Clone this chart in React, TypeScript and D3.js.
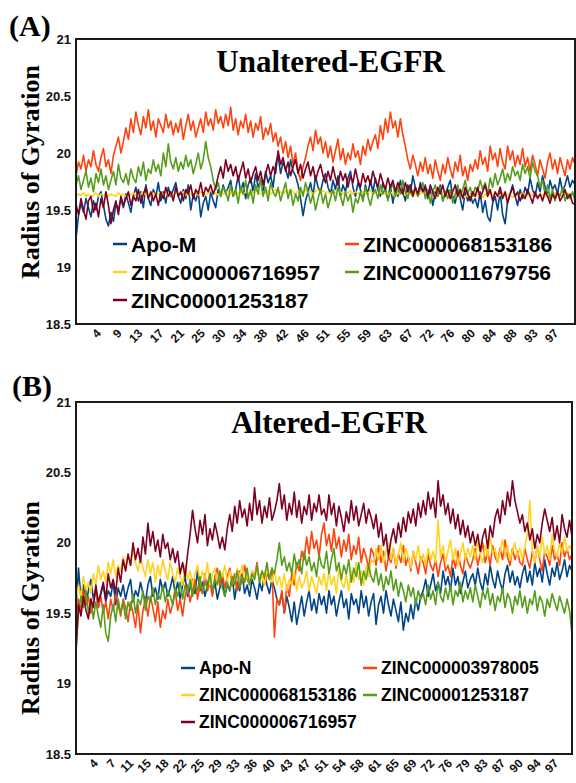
import React from 'react';
import * as d3 from 'd3';

// ---------- DATA ----------
const ticksA = ['4','9','13','17','21','25','30','34','38','42','46','51','55','59','63','67','72','76','80','84','88','93','97'];
const ticksB = ['4','7','11','15','18','22','25','29','33','36','40','43','47','51','54','58','61','65','69','72','76','79','83','87','90','94','97'];
const yTicks = [18.5, 19, 19.5, 20, 20.5, 21];

const namesA = ['Apo-M', 'ZINC000068153186', 'ZINC000006716957', 'ZINC000011679756', 'ZINC00001253187'];
const namesB = ['Apo-N', 'ZINC000003978005', 'ZINC000068153186', 'ZINC00001253187', 'ZINC000006716957'];

// Panel A series (time 0–100 ns, evenly sampled)
const aApoM = [
19.25,19.45,19.56,19.48,19.60,19.52,19.44,19.58,19.50,19.62,19.66,19.54,19.42,19.36,19.48,19.40,19.56,19.50,19.60,19.52,
19.64,19.56,19.48,19.62,19.70,19.58,19.66,19.52,19.72,19.60,19.54,19.68,19.62,19.74,19.58,19.66,19.56,19.70,19.62,19.68,
19.74,19.62,19.56,19.68,19.60,19.72,19.50,19.64,19.58,19.66,19.44,19.56,19.62,19.50,19.66,19.58,19.52,19.68,19.62,19.72,
19.64,19.70,19.76,19.62,19.68,19.80,19.66,19.74,19.60,19.72,19.78,19.66,19.82,19.70,19.76,19.64,19.84,19.74,19.80,19.70,
19.90,19.98,19.82,19.92,19.86,19.78,19.94,19.84,19.80,19.72,19.60,19.45,19.58,19.66,19.74,19.62,19.80,19.70,19.66,19.76,
19.82,19.70,19.64,19.76,19.68,19.80,19.62,19.72,19.66,19.78,19.84,19.70,19.62,19.74,19.68,19.58,19.72,19.64,19.76,19.66,
19.78,19.68,19.62,19.74,19.66,19.60,19.72,19.56,19.68,19.62,19.76,19.66,19.58,19.72,19.64,19.80,19.70,19.62,19.74,19.66,
19.72,19.60,19.68,19.54,19.66,19.62,19.72,19.58,19.64,19.70,19.76,19.62,19.56,19.68,19.60,19.50,19.66,19.58,19.64,19.56,
19.60,19.52,19.66,19.48,19.58,19.44,19.40,19.56,19.62,19.50,19.66,19.46,19.38,19.58,19.64,19.72,19.62,19.54,19.68,19.60,
19.70,19.64,19.78,19.68,19.62,19.74,19.66,19.80,19.70,19.62,19.76,19.68,19.72,19.64,19.78,19.66,19.72,19.80,19.70,19.76,19.72];
const aZ68 = [
19.80,19.92,19.86,19.98,19.84,19.94,19.88,20.02,19.90,19.84,19.96,20.04,19.88,19.94,19.82,19.98,20.06,20.14,20.00,20.10,
20.22,20.12,20.30,20.18,20.36,20.24,20.16,20.32,20.22,20.38,20.20,20.28,20.14,20.30,20.24,20.18,20.34,20.22,20.28,20.16,
20.26,20.18,20.30,20.12,20.24,20.34,20.20,20.28,20.14,20.22,20.30,20.18,20.36,20.24,20.30,20.20,20.38,20.26,20.32,20.22,
20.34,20.24,20.40,20.20,20.30,20.16,20.28,20.22,20.34,20.18,20.28,20.14,20.26,20.20,20.32,20.12,20.22,20.16,20.26,20.10,
20.18,20.06,20.14,20.00,20.10,19.96,20.06,19.90,20.00,19.84,19.76,19.88,19.96,20.06,20.14,20.02,20.20,20.08,20.14,20.00,
20.10,19.96,20.06,19.92,20.02,20.12,19.94,20.04,19.90,20.00,19.94,20.08,19.96,20.02,19.90,20.06,19.98,20.12,20.02,20.10,
20.16,20.04,20.24,20.12,20.30,20.18,20.36,20.22,20.28,20.14,20.30,20.16,20.06,19.94,19.86,19.98,19.90,19.80,19.92,19.84,
19.96,19.82,19.90,19.78,19.94,19.84,19.76,19.90,19.82,19.96,19.86,19.78,19.92,19.84,19.98,19.80,19.88,19.76,19.90,19.84,
19.94,19.86,20.02,19.90,19.96,19.84,20.06,19.94,20.00,19.88,20.04,19.92,19.86,20.06,19.94,20.02,19.88,19.98,19.90,20.04,
19.88,19.96,19.84,19.98,19.90,19.80,19.94,19.86,19.78,19.92,20.00,19.86,19.94,19.82,19.96,19.88,19.80,19.94,19.86,19.96,19.90];
const aZ67 = [
19.62,19.64,19.63,19.65,19.62,19.64,19.61,19.63,19.65,19.62,19.64,19.63,19.65,19.62,19.64,19.63,19.62,19.65,19.63,19.64,
19.62,19.64,19.63,19.65,19.63,19.62,19.64,19.66,19.63,19.64,19.62,19.65,19.63,19.64,19.66,19.63,19.65,19.62,19.64,19.63,
19.65,19.63,19.64,19.66,19.63,19.65,19.64,19.62,19.65,19.63,19.66,19.64,19.63,19.65,19.67,19.64,19.65,19.63,19.66,19.64,
19.65,19.67,19.64,19.66,19.63,19.65,19.67,19.64,19.66,19.65,19.63,19.66,19.68,19.65,19.64,19.66,19.65,19.67,19.64,19.66,
19.68,19.65,19.66,19.64,19.67,19.65,19.68,19.66,19.64,19.67,19.65,19.66,19.68,19.65,19.67,19.64,19.66,19.68,19.65,19.67,
19.65,19.66,19.64,19.67,19.65,19.68,19.66,19.64,19.66,19.65,19.67,19.64,19.66,19.65,19.63,19.66,19.64,19.65,19.67,19.64,
19.65,19.63,19.66,19.64,19.65,19.63,19.66,19.64,19.62,19.65,19.64,19.66,19.63,19.65,19.64,19.62,19.65,19.63,19.64,19.66,
19.63,19.64,19.62,19.65,19.63,19.64,19.66,19.63,19.62,19.64,19.65,19.63,19.64,19.62,19.65,19.63,19.61,19.64,19.63,19.65,
19.62,19.64,19.63,19.61,19.64,19.62,19.65,19.63,19.64,19.62,19.63,19.65,19.62,19.64,19.63,19.61,19.64,19.62,19.63,19.65,
19.63,19.62,19.64,19.63,19.65,19.62,19.64,19.63,19.61,19.64,19.63,19.62,19.65,19.63,19.64,19.62,19.63,19.65,19.62,19.64,19.63];
const aZ11 = [
19.72,19.80,19.68,19.76,19.84,19.70,19.78,19.66,19.82,19.74,19.86,19.72,19.80,19.68,19.76,19.84,19.72,19.90,19.78,19.74,
19.82,19.72,19.86,19.78,19.74,19.88,19.80,19.92,19.76,19.86,19.82,19.94,19.84,19.90,19.80,20.00,19.88,20.08,19.92,19.86,
19.96,19.84,19.92,19.86,19.98,19.88,19.94,19.82,19.90,20.00,19.86,19.94,20.10,19.96,19.88,19.76,19.68,19.74,19.62,19.70,
19.66,19.58,19.72,19.62,19.68,19.56,19.70,19.64,19.76,19.60,19.68,19.56,19.72,19.64,19.78,19.62,19.70,19.58,19.74,19.66,
19.62,19.70,19.58,19.66,19.74,19.60,19.68,19.54,19.64,19.58,19.70,19.62,19.74,19.66,19.56,19.64,19.50,19.60,19.68,19.56,
19.64,19.52,19.60,19.68,19.58,19.70,19.62,19.54,19.66,19.58,19.64,19.48,19.60,19.56,19.66,19.58,19.70,19.62,19.54,19.64,
19.68,19.60,19.72,19.64,19.70,19.58,19.66,19.74,19.62,19.70,19.64,19.76,19.66,19.60,19.72,19.64,19.70,19.62,19.68,19.74,
19.60,19.68,19.56,19.66,19.72,19.62,19.70,19.58,19.66,19.60,19.68,19.56,19.64,19.72,19.62,19.68,19.76,19.64,19.70,19.62,
19.70,19.66,19.76,19.68,19.74,19.64,19.78,19.70,19.82,19.72,19.78,19.86,19.74,19.82,19.76,19.88,19.80,19.84,19.76,19.90,
19.82,19.88,19.78,19.92,19.84,19.80,19.70,19.76,19.64,19.72,19.60,19.68,19.58,19.66,19.62,19.70,19.58,19.64,19.60,19.66,19.58];
const aZ12 = [
19.55,19.46,19.60,19.50,19.42,19.58,19.62,19.48,19.56,19.44,19.60,19.52,19.66,19.54,19.38,19.50,19.58,19.46,19.62,19.54,
19.60,19.66,19.54,19.62,19.58,19.68,19.56,19.64,19.70,19.60,19.66,19.58,19.64,19.54,19.66,19.60,19.70,19.62,19.66,19.58,
19.70,19.62,19.66,19.58,19.68,19.64,19.72,19.60,19.68,19.64,19.74,19.62,19.70,19.66,19.72,19.64,19.70,19.80,19.88,19.78,
19.94,19.84,19.90,19.80,19.88,19.76,19.84,19.92,19.78,19.86,19.74,19.82,19.88,19.76,19.84,19.72,19.82,19.90,19.80,19.88,
19.82,20.02,19.90,19.96,19.84,19.92,19.80,19.88,19.94,19.82,19.90,19.78,19.86,19.92,19.80,19.88,19.76,19.84,19.90,19.80,
19.74,19.84,19.76,19.88,19.78,19.72,19.84,19.76,19.82,19.70,19.80,19.74,19.86,19.76,19.70,19.82,19.74,19.80,19.72,19.84,
19.76,19.70,19.82,19.74,19.68,19.78,19.70,19.76,19.66,19.74,19.68,19.64,19.74,19.66,19.72,19.62,19.70,19.64,19.72,19.66,
19.70,19.62,19.72,19.66,19.60,19.70,19.64,19.72,19.62,19.68,19.60,19.66,19.72,19.62,19.68,19.60,19.70,19.64,19.58,19.66,
19.62,19.70,19.60,19.66,19.72,19.62,19.68,19.58,19.66,19.62,19.70,19.60,19.66,19.56,19.64,19.70,19.62,19.66,19.58,19.64,
19.60,19.68,19.62,19.56,19.66,19.60,19.64,19.58,19.66,19.62,19.56,19.64,19.60,19.66,19.58,19.62,19.68,19.60,19.64,19.56,19.55];

// Panel B series
const bApoN = [
19.50,19.82,19.60,19.70,19.56,19.66,19.74,19.60,19.68,19.54,19.64,19.70,19.58,19.66,19.62,19.72,19.56,19.68,19.62,19.70,
19.60,19.68,19.74,19.58,19.66,19.62,19.72,19.64,19.58,19.70,19.76,19.62,19.68,19.60,19.74,19.66,19.72,19.62,19.68,19.76,
19.64,19.72,19.60,19.70,19.76,19.62,19.68,19.74,19.64,19.80,19.66,19.72,19.62,19.70,19.78,19.64,19.72,19.60,19.68,19.74,
19.62,19.70,19.66,19.76,19.60,19.72,19.66,19.78,19.64,19.70,19.62,19.74,19.68,19.60,19.72,19.66,19.78,19.70,19.64,19.74,
19.68,19.60,19.56,19.64,19.50,19.62,19.54,19.44,19.58,19.42,19.52,19.62,19.48,19.58,19.66,19.52,19.60,19.50,19.64,19.56,
19.62,19.50,19.66,19.56,19.62,19.48,19.58,19.66,19.54,19.60,19.46,19.64,19.56,19.60,19.50,19.66,19.54,19.62,19.48,19.58,
19.64,19.42,19.56,19.62,19.50,19.66,19.56,19.48,19.60,19.52,19.44,19.58,19.38,19.50,19.44,19.56,19.46,19.60,19.52,19.62,
19.66,19.74,19.62,19.70,19.78,19.66,19.72,19.64,19.80,19.70,19.76,19.66,19.82,19.70,19.76,19.64,19.72,19.80,19.68,19.74,
19.78,19.70,19.82,19.72,19.66,19.78,19.70,19.84,19.74,19.68,19.80,19.72,19.66,19.78,19.84,19.72,19.80,19.70,19.76,19.68,
19.78,19.84,19.72,19.80,19.70,19.86,19.76,19.82,19.72,19.88,19.78,19.70,19.82,19.76,19.86,19.74,19.80,19.88,19.76,19.84,19.80];
const bZ39 = [
19.48,19.60,19.52,19.66,19.56,19.62,19.50,19.58,19.66,19.54,19.62,19.50,19.58,19.46,19.60,19.52,19.64,19.56,19.48,19.60,
19.54,19.44,19.58,19.50,19.40,19.56,19.36,19.52,19.60,19.48,19.62,19.54,19.44,19.58,19.40,19.52,19.46,19.60,19.50,19.56,
19.66,19.52,19.60,19.48,19.62,19.70,19.58,19.66,19.74,19.60,19.70,19.64,19.78,19.66,19.72,19.62,19.76,19.82,19.70,19.78,
19.68,19.76,19.82,19.70,19.78,19.66,19.80,19.72,19.84,19.74,19.70,19.80,19.76,19.86,19.72,19.80,19.70,19.78,19.74,19.82,
19.33,19.60,19.56,19.66,19.50,19.70,19.62,19.78,19.70,19.86,19.80,19.94,19.88,20.04,19.92,20.08,19.96,20.02,19.90,20.06,
20.14,19.98,20.06,19.94,20.10,19.96,20.04,19.90,20.02,19.94,20.06,19.88,19.98,19.92,20.04,19.86,19.96,19.90,19.82,19.96,
19.92,19.84,19.98,19.86,19.94,19.80,19.90,19.86,19.96,19.82,19.92,19.86,19.98,19.84,19.90,19.80,19.94,19.86,19.78,19.90,
19.86,19.78,19.92,19.84,19.80,19.88,19.76,19.86,19.92,19.80,19.84,19.76,19.90,19.82,19.94,19.84,19.78,19.92,19.86,19.82,
19.88,19.96,19.84,19.92,20.00,19.86,19.94,19.84,19.98,19.90,19.86,19.96,19.88,20.02,19.90,19.84,19.96,19.88,19.94,19.86,
19.84,19.96,19.88,19.82,19.94,19.86,19.98,19.88,19.80,19.94,19.90,19.84,19.98,19.88,19.92,19.84,20.00,19.90,19.96,19.88,19.92];
const bZ68 = [
19.58,19.70,19.62,19.76,19.66,19.72,19.64,19.78,19.70,19.84,19.74,19.80,19.72,19.86,19.78,19.88,19.76,19.84,19.80,19.90,
19.82,19.92,19.84,19.95,19.86,19.80,19.90,19.82,19.76,19.88,19.78,19.86,19.72,19.84,19.76,19.88,19.80,19.74,19.86,19.78,
19.72,19.82,19.76,19.70,19.84,19.74,19.80,19.70,19.78,19.84,19.72,19.80,19.74,19.86,19.70,19.78,19.82,19.72,19.80,19.76,
19.84,19.72,19.80,19.74,19.70,19.82,19.76,19.84,19.72,19.78,19.70,19.80,19.74,19.84,19.72,19.78,19.70,19.82,19.76,19.72,
19.80,19.70,19.76,19.68,19.78,19.66,19.74,19.70,19.80,19.66,19.76,19.68,19.72,19.80,19.66,19.76,19.70,19.64,19.76,19.70,
19.78,19.66,19.80,19.70,19.76,19.64,19.82,19.72,19.68,19.78,19.66,19.80,19.72,19.86,19.74,19.80,19.70,19.84,19.76,19.88,
19.86,19.96,19.88,19.98,19.86,19.94,20.00,19.88,19.96,19.84,19.92,20.00,19.86,19.96,19.90,19.82,19.94,19.88,19.98,19.86,
19.92,19.84,19.96,19.88,19.94,19.86,20.16,19.90,19.98,19.86,19.94,20.02,19.88,19.96,19.84,19.92,20.00,19.88,19.96,19.90,
19.98,19.88,20.02,19.92,19.86,19.98,19.90,20.04,19.92,19.96,19.86,19.94,20.02,19.90,19.98,19.88,19.94,20.00,19.90,19.96,
19.88,19.98,20.06,20.30,19.94,19.86,19.98,19.90,20.04,19.92,19.98,19.88,20.06,19.94,19.90,20.00,19.92,20.04,19.94,19.98,19.94];
const bZ12 = [
19.25,19.50,19.62,19.54,19.66,19.50,19.60,19.46,19.58,19.48,19.40,19.56,19.36,19.30,19.48,19.56,19.44,19.60,19.50,19.58,
19.46,19.58,19.52,19.64,19.50,19.60,19.56,19.66,19.52,19.62,19.58,19.68,19.56,19.64,19.60,19.70,19.58,19.66,19.62,19.56,
19.68,19.62,19.72,19.60,19.70,19.64,19.74,19.62,19.70,19.66,19.76,19.64,19.72,19.68,19.78,19.66,19.74,19.70,19.80,19.68,
19.62,19.72,19.66,19.76,19.70,19.80,19.68,19.76,19.72,19.82,19.70,19.78,19.74,19.84,19.72,19.80,19.76,19.86,19.74,19.82,
19.78,19.88,20.00,19.84,19.90,19.80,19.86,19.78,19.92,19.82,19.88,19.78,19.94,19.84,19.90,19.80,19.86,19.76,19.92,19.84,
19.82,19.94,19.78,19.88,19.96,19.80,19.86,19.74,19.84,19.78,19.88,19.72,19.82,19.76,19.86,19.70,19.80,19.74,19.84,19.76,
19.72,19.82,19.70,19.78,19.66,19.76,19.70,19.80,19.66,19.74,19.62,19.72,19.66,19.58,19.70,19.62,19.68,19.56,19.66,19.60,
19.64,19.56,19.70,19.60,19.66,19.56,19.72,19.62,19.58,19.68,19.60,19.70,19.56,19.66,19.62,19.72,19.58,19.66,19.60,19.68,
19.58,19.70,19.62,19.54,19.66,19.60,19.68,19.56,19.64,19.52,19.62,19.58,19.68,19.54,19.64,19.60,19.50,19.62,19.56,19.66,
19.54,19.62,19.50,19.60,19.56,19.66,19.52,19.62,19.58,19.48,19.60,19.54,19.64,19.58,19.52,19.62,19.56,19.50,19.60,19.52,19.35];
const bZ67 = [
19.22,19.56,19.48,19.62,19.52,19.46,19.60,19.54,19.70,19.58,19.64,19.72,19.60,19.78,19.68,19.74,19.64,19.82,19.72,19.88,
19.80,19.92,19.84,20.00,19.88,19.96,19.86,20.04,19.92,20.14,19.98,20.08,19.94,20.02,19.90,20.06,19.96,20.00,19.88,19.96,
19.86,19.94,19.78,19.86,19.76,19.92,20.06,20.23,20.10,20.00,20.16,20.06,20.20,19.98,20.10,20.02,20.14,20.06,19.96,20.04,
19.95,20.10,20.20,20.08,20.26,20.14,20.30,20.18,20.24,20.12,20.28,20.16,20.39,20.20,20.30,20.14,20.26,20.18,20.32,20.16,
20.22,20.30,20.42,20.24,20.34,20.16,20.28,20.20,20.36,20.18,20.30,20.14,20.26,20.20,20.34,20.16,20.28,20.22,20.34,20.20,
20.24,20.16,20.34,20.20,20.28,20.12,20.26,20.18,20.08,20.22,20.14,20.30,20.16,20.26,20.12,20.20,20.28,20.14,20.24,20.18,
20.10,20.20,20.04,20.14,19.98,20.06,19.90,20.02,20.10,20.00,20.14,20.04,20.18,20.08,20.22,20.14,20.24,20.12,20.28,20.18,
20.30,20.20,20.36,20.24,20.32,20.18,20.44,20.26,20.34,20.20,20.28,20.14,20.24,20.10,20.20,20.06,20.16,20.04,20.12,20.00,
20.08,19.98,20.06,19.94,20.04,20.10,19.96,20.12,20.04,20.18,20.24,20.14,20.30,20.20,20.36,20.26,20.44,20.30,20.22,20.14,
20.20,20.08,20.14,20.02,20.10,19.96,20.06,20.00,20.14,20.24,20.16,20.08,20.18,20.02,20.12,20.00,20.20,20.10,20.04,20.16,20.04];

const colors = ['#004586', '#ff420e', '#ffd320', '#579d1c', '#7e0021'];

const seriesA = [aApoM, aZ68, aZ67, aZ11, aZ12];
const seriesB = [bApoN, bZ39, bZ68, bZ12, bZ67];

const SANS = '"Liberation Sans", Arial, sans-serif';
const SERIF = '"Liberation Serif", "Times New Roman", serif';

type PanelProps = {
  id: string;
  label: string;
  labelX: number;
  labelY: number;
  title: string;
  titleY: number;
  top: number;
  bottom: number;
  left: number;
  right: number;
  ticks: string[];
  series: number[][];
  names: string[];
  yTitleY: number;
  legend: { x1: number; x2: number; rows: number[]; fs: number };
};

function Panel(p: PanelProps) {
  const x = d3.scaleLinear().domain([0, 100]).range([p.left, p.right]);
  const y = d3.scaleLinear().domain([18.5, 21]).range([p.bottom, p.top]);
  const step = 100 / (p.ticks.length + 1);
  const legendItems = p.names.map((n, i) => ({
    n, c: colors[i],
    lx: i % 2 === 0 ? p.legend.x1 : p.legend.x2,
    ly: p.legend.rows[Math.floor(i / 2)],
  }));
  return (
    <g>
      <defs>
        <clipPath id={`clip-${p.id}`}>
          <rect x={p.left} y={p.top} width={p.right - p.left} height={p.bottom - p.top} />
        </clipPath>
      </defs>
      <g clipPath={`url(#clip-${p.id})`}>
        {p.series.map((s, i) => {
          const line = d3.line<number>().x((_, j) => x(j * 100 / (s.length - 1))).y(d => y(d));
          return <path key={i} d={line(s) || ''} fill="none" stroke={colors[i]} strokeWidth={1.6} strokeLinejoin="round" />;
        })}
      </g>
      <rect x={p.left} y={p.top} width={p.right - p.left} height={p.bottom - p.top} fill="none" stroke="#1a1a1a" strokeWidth={2} />
      {yTicks.map(t => (
        <text key={t} x={p.left - 5} y={y(t)} dy="0.35em" textAnchor="end" fontFamily={SANS} fontWeight="bold" fontSize={13} fill="#111">
          {d3.format('')(t)}
        </text>
      ))}
      {p.ticks.map((t, i) => {
        const tx = x((i + 1) * step) + 2;
        const ty = p.bottom + 7;
        return (
          <text key={i} x={tx} y={ty} dy="0.35em" textAnchor="end" transform={`rotate(-45 ${tx} ${ty})`} fontFamily={SANS} fontWeight="bold" fontSize={12} fill="#111">
            {t}
          </text>
        );
      })}
      <text x={p.labelX} y={p.labelY} fontFamily={SERIF} fontWeight="bold" fontSize={30} fill="#000">{p.label}</text>
      <text x={(p.left + p.right) / 2 + 5} y={p.titleY} textAnchor="middle" fontFamily={SERIF} fontWeight="bold" fontSize={31} fill="#000">{p.title}</text>
      <text transform={`translate(30 ${p.yTitleY}) rotate(-90)`} textAnchor="middle" dy="0.35em" fontFamily={SERIF} fontWeight="bold" fontSize={26} fill="#000">Radius of Gyration</text>
      {legendItems.map((it, i) => (
        <g key={i}>
          <line x1={it.lx} x2={it.lx + 14} y1={it.ly} y2={it.ly} stroke={it.c} strokeWidth={2.5} />
          <text x={it.lx + 18} y={it.ly} dy="0.36em" fontFamily={SANS} fontWeight="bold" fontSize={p.legend.fs} fill="#000">{it.n}</text>
        </g>
      ))}
    </g>
  );
}

export default function App() {
  return (
    <svg width={576} height={783} style={{ position: 'absolute', left: 0, top: 0, background: '#fff' }}>
      <rect width={576} height={783} fill="#fff" />
      <Panel id="A" label="(A)" labelX={9} labelY={36} title="Unaltered-EGFR" titleY={72}
        top={39} bottom={324} left={76} right={575} ticks={ticksA} series={seriesA}
        names={namesA} yTitleY={172}
        legend={{ x1: 113, x2: 345, rows: [244, 272, 300], fs: 21 }} />
      <Panel id="B" label="(B)" labelX={12} labelY={396} title="Altered-EGFR" titleY={433}
        top={402} bottom={754} left={76} right={572} ticks={ticksB} series={seriesB}
        names={namesB} yTitleY={608}
        legend={{ x1: 181, x2: 363, rows: [668, 695, 722], fs: 17.5 }} />
    </svg>
  );
}
